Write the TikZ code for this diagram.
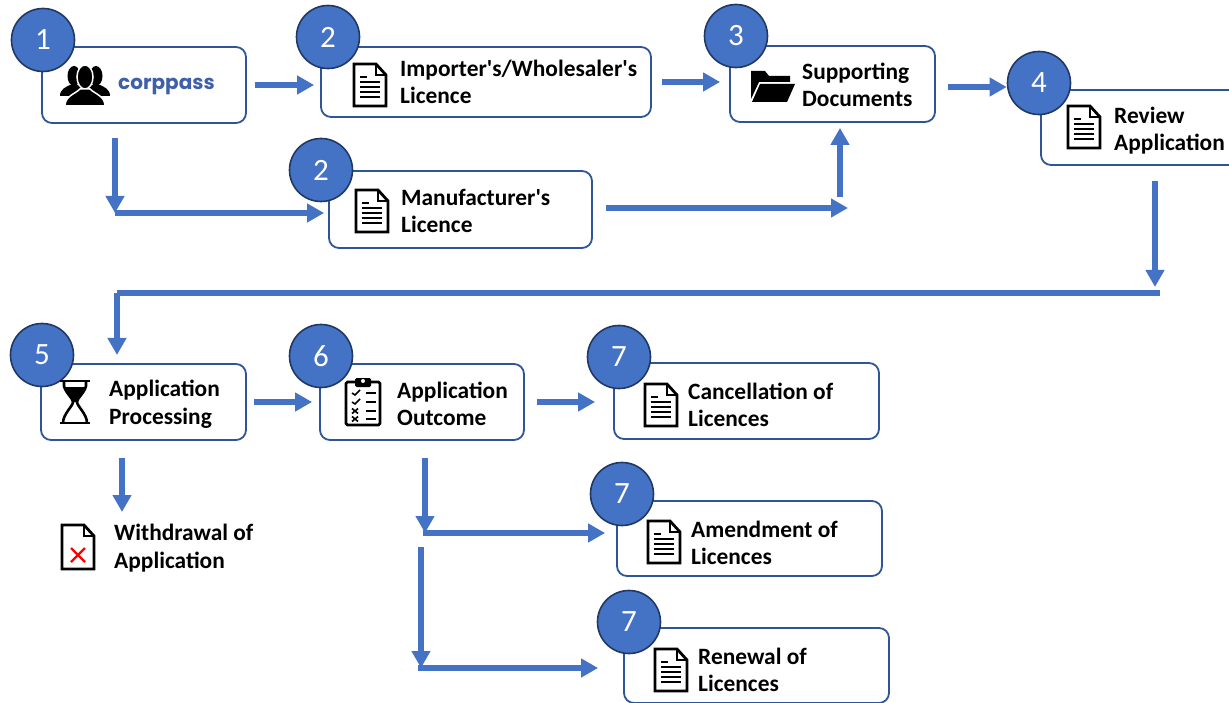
\documentclass[tikz,border=0pt]{standalone}
\usepackage{fontspec}
\setmainfont{Carlito}[Ligatures=TeXOff]
\newfontfamily\logofont{Poppins}
\usetikzlibrary{positioning,arrows.meta}
\definecolor{stepblue}{HTML}{4472C4}
\definecolor{stepdark}{HTML}{1F3864}
\definecolor{boxblue}{HTML}{2F5597}
\definecolor{logoblue}{HTML}{3F5FA8}
\tikzset{
	stepbox/.style={draw=boxblue,line width=1.8pt,rounded corners=10pt,fill=white,inner sep=0pt},
	stepnum/.style={shape=circle,draw=stepdark,line width=1.6pt,fill=stepblue,text=white,minimum size=63pt,inner sep=0pt,font=\fontsize{31}{31}\selectfont},
	steplabel/.style={anchor=west,align=left,inner sep=0pt,font=\fontsize{23.4}{27.5}\selectfont\bfseries},
	flow/.style={draw=stepblue,line width=6pt,-{Triangle[length=17pt,width=18pt]}},
	flowline/.style={draw=stepblue,line width=6pt},
	docicon/.pic={
		\draw[line width=2.8pt,fill=white,line join=miter] (-16,-21) -- (6,-21) -- (16,-10) -- (16,21) -- (-16,21) -- cycle;
		\draw[line width=2pt] (6,-21) -- (6,-10) -- (16,-10);
		\draw[line width=1.8pt] (-10,-8) -- (-3,-8);
		\foreach \ly in {-3,2,7,12}
			\draw[line width=1.8pt] (-10,\ly) -- (10,\ly);
	},
	crossicon/.pic={
		\draw[line width=2.8pt,fill=white,line join=miter] (-16,-22) -- (6,-22) -- (16,-11) -- (16,22) -- (-16,22) -- cycle;
		\draw[line width=2pt] (6,-22) -- (6,-11) -- (16,-11);
		\draw[red,line width=2.2pt] (-7,1) -- (7,15);
		\draw[red,line width=2.2pt] (7,1) -- (-7,15);
	},
	peopleicon/.pic={
		\foreach \px in {-11,11}{
			\fill (\px,-9) ellipse (6.5 and 10);
			\fill (\px-14,11) .. controls (\px-14,4) and (\px-8,2) .. (\px-4,0) -- (\px+4,0) .. controls (\px+8,2) and (\px+14,4) .. (\px+14,11) -- cycle;
		}
		\draw[white,line width=1.5pt,fill=black] (0,-8) ellipse (8 and 12);
		\draw[white,line width=1.5pt,fill=black] (-20,21) .. controls (-20,11) and (-10,9) .. (-5,4) -- (5,4) .. controls (10,9) and (20,11) .. (20,21) -- cycle;
	},
	foldericon/.pic={
		\fill (-22,12) -- (-22,-16) -- (-8,-16) -- (-4,-11) -- (17,-11) -- (17,-5) -- (-14,-5) -- cycle;
		\fill (-13,-3) -- (22,-3) -- (14,15) -- (-21,15) -- cycle;
	},
	hourglassicon/.pic={
		\draw[line width=2.8pt] (-15,-21) -- (15,-21);
		\draw[line width=2.8pt] (-15,21) -- (15,21);
		\draw[line width=2.6pt] (-11,-21) -- (-11,-16) .. controls (-9,-8) and (-2,-4) .. (-2,0) .. controls (-2,4) and (-12,12) .. (-12,21);
		\draw[line width=2.6pt] (11,-21) -- (11,-16) .. controls (9,-8) and (2,-4) .. (2,0) .. controls (2,4) and (12,12) .. (12,21);
		\fill (-11,-15) -- (11,-15) .. controls (9,-8) and (2,-4) .. (2,0) -- (-2,0) .. controls (-2,-4) and (-9,-8) .. (-11,-15) -- cycle;
	},
	clipicon/.pic={
		\draw[line width=2.8pt,rounded corners=1.5pt,fill=white] (-17,-19) rectangle (17,24);
		\fill[rounded corners=1.5pt] (-8,-23) rectangle (8,-14);
		\fill[white] (0,-20) circle (2);
		\foreach \ly in {-8,1,10,18}
			\draw[line width=1.8pt] (3,\ly) -- (13,\ly);
		\foreach \ly in {-8,1}
			\draw[line width=1.6pt] (-11,\ly) -- (-8,\ly+2) -- (-3,\ly-3);
		\foreach \ly in {10,18}{
			\draw[line width=1.6pt] (-11,\ly-2.5) -- (-5,\ly+2.5);
			\draw[line width=1.6pt] (-5,\ly-2.5) -- (-11,\ly+2.5);
		}
	}
}
\begin{document}
\begin{tikzpicture}[x=1pt,y=-1pt]
		\useasboundingbox (0,0) rectangle (1229,703);
		
		% boxes
		\node[stepbox,minimum width=204pt,minimum height=76pt] (corp) at (144,85) {};
		\node[stepbox,minimum width=330pt,minimum height=70pt] (imp) at (486,82) {};
		\node[stepbox,minimum width=263pt,minimum height=77pt] (mfr) at (460.5,209.5) {};
		\node[stepbox,minimum width=205pt,minimum height=76pt] (supp) at (832.5,84) {};
		\node[stepbox,minimum width=205pt,minimum height=75pt] (rev) at (1143.5,127.5) {};
		\node[stepbox,minimum width=205pt,minimum height=76pt] (proc) at (143.5,402) {};
		\node[stepbox,minimum width=204pt,minimum height=76pt] (outc) at (422,402) {};
		\node[stepbox,minimum width=265pt,minimum height=76pt] (canc) at (746.5,401) {};
		\node[stepbox,minimum width=265pt,minimum height=75pt] (amend) at (749.5,538.5) {};
		\node[stepbox,minimum width=265pt,minimum height=75pt] (renew) at (756.5,665.5) {};
		
		% free ends of the connectors
		\coordinate (mfrin) at (115,213);
		\coordinate (suppin) at (848,208);
		\coordinate (suppup) at (840,197);
		\coordinate (revdown) at (1155,287);
		\coordinate (backend) at (1160,293);
		\coordinate (backcorner) at (117,293);
		\coordinate (procin) at (117,355);
		\coordinate (wdarrow) at (122,512);
		\coordinate (amendin) at (425,533);
		\coordinate (renewtop) at (421,547);
		\coordinate (renewin) at (421,668);
		
		% numbers
		\node[stepnum] (n1) at (43,40) {1};
		\node[stepnum] (n2a) at (328,37) {2};
		\node[stepnum] (n2b) at (321,170) {2};
		\node[stepnum] (n3) at (736,36) {3};
		\node[stepnum] (n4) at (1039,83) {4};
		\node[stepnum] (n5) at (42,355) {5};
		\node[stepnum] (n6) at (321,356) {6};
		\node[stepnum] (n7a) at (619,357) {7};
		\node[stepnum] (n7b) at (622,494) {7};
		\node[stepnum] (n7c) at (629,622) {7};
		
		% icons
		\pic (iconcorp) at (85,85) {peopleicon};
		\pic (iconimp) at (370,85) {docicon};
		\pic (iconmfr) at (372,211) {docicon};
		\pic (iconsupp) at (773,87) {foldericon};
		\pic (iconrev) at (1084,127) {docicon};
		\pic (iconproc) at (75,402) {hourglassicon};
		\pic (iconoutc) at (363,401) {clipicon};
		\pic (iconcanc) at (661,405) {docicon};
		\pic (iconamend) at (664,542) {docicon};
		\pic (iconrenew) at (671,670) {docicon};
		\pic (iconwd) at (78,547) {crossicon};
		
		% texts
		\node[anchor=west,inner sep=0pt,text=logoblue,font=\logofont\fontsize{20}{20}\selectfont\bfseries] (corplogo) at (118,87) {corppass};
		\node[steplabel] (implabel) at (400,82) {Importer's/Wholesaler's\\Licence};
		\node[steplabel] (mfrlabel) at (401,211) {Manufacturer's\\Licence};
		\node[steplabel] (supplabel) at (802,85) {Supporting\\Documents};
		\node[steplabel] (revlabel) at (1114,130.5) {Review\\Application};
		\node[steplabel] (proclabel) at (109,404.5) {Application\\Processing};
		\node[steplabel] (outclabel) at (397,404) {Application\\Outcome};
		\node[steplabel] (canclabel) at (688,405) {Cancellation of\\Licences};
		\node[steplabel] (amendlabel) at (691,543) {Amendment of\\Licences};
		\node[steplabel] (renewlabel) at (698,670) {Renewal of\\Licences};
		\node[steplabel] (wdlabel) at (114,548) {Withdrawal of\\Application};
		
		% connectors
		\draw[flow,shorten <=8pt,shorten >=6pt] (corp.east) -- (corp.east -| imp.west);
		\draw[flow,shorten <=10pt,shorten >=9pt] (imp.east) -- (imp.east -| supp.west);
		\draw[flow,shorten <=12pt] ([yshift=-3pt]supp.east) -- ([yshift=-3pt]supp.east -| n4.west);
		\draw[flow,shorten <=14pt] (mfrin |- corp.south) -- (mfrin);
		\draw[flow,shorten >=4pt] (mfrin) -- (mfrin -| mfr.west);
		\draw[flow,shorten <=13pt] (mfr.east |- suppin) -- (suppin);
		\draw[flow,shorten >=5pt] (suppup) -- (suppup |- supp.south);
		\draw[flow,shorten <=15pt] (revdown |- rev.south) -- (revdown);
		\draw[flowline] (backend) -- (backcorner);
		\draw[flow] (backcorner) -- (procin);
		\draw[flow,shorten <=7pt,shorten >=7pt] (proc.east) -- (proc.east -| outc.west);
		\draw[flow,shorten <=12pt,shorten >=18pt] (outc.east) -- (outc.east -| canc.west);
		\draw[flow,shorten <=17pt] (wdarrow |- proc.south) -- (wdarrow);
		\draw[flow,shorten <=17pt] (amendin |- outc.south) -- (amendin);
		\draw[flow,shorten >=11pt] ([xshift=-2pt]amendin) -- (amendin -| amend.west);
		\draw[flow] (renewtop) -- (renewin);
		\draw[flow,shorten >=25pt] ([xshift=-3pt]renewin) -- (renewin -| renew.west);
\end{tikzpicture}
\end{document}
